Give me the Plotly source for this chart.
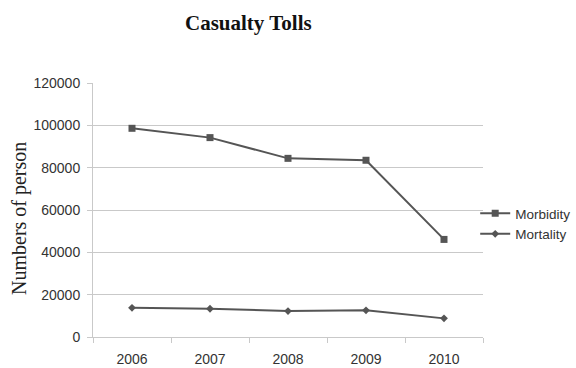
import plotly.graph_objects as go

years = ["2006", "2007", "2008", "2009", "2010"]
morbidity = [98600, 94200, 84400, 83500, 46100]
mortality = [13800, 13350, 12260, 12580, 8800]
y_ticks = [0, 20000, 40000, 60000, 80000, 100000, 120000]

line_color = "#555555"
grid_color = "#c9c9c9"
text_color = "#333333"

fig = go.Figure()
fig.add_trace(go.Scatter(
    x=years, y=morbidity, name="Morbidity", mode="lines+markers",
    line=dict(color=line_color, width=2),
    marker=dict(symbol="square", size=7, color=line_color),
))
fig.add_trace(go.Scatter(
    x=years, y=mortality, name="Mortality", mode="lines+markers",
    line=dict(color=line_color, width=2),
    marker=dict(symbol="diamond", size=6, color=line_color),
))

fig.update_layout(
    width=576, height=368,
    margin=dict(l=93, r=93, t=83, b=31, autoexpand=False),
    paper_bgcolor="white", plot_bgcolor="white",
    font=dict(family="Liberation Sans, Arial, sans-serif", size=14, color=text_color),
    showlegend=True,
    legend=dict(
        x=0.98, y=0.445, xanchor="left", yanchor="middle",
        itemwidth=30, tracegroupgap=0,
        font=dict(size=13.5, color=text_color),
        bgcolor="rgba(0,0,0,0)",
    ),
    annotations=[
        dict(text="<b>Casualty Tolls</b>", xref="paper", yref="paper",
             x=(248 - 93) / 390, y=1 + (83 - 23) / 254, xanchor="center", yanchor="middle",
             showarrow=False,
             font=dict(family="Liberation Serif, Times New Roman, serif", size=21, color="#111111")),
        dict(text="Numbers of person", xref="paper", yref="paper",
             x=-(93 - 20) / 390, y=(337 - 219) / 254, xanchor="center", yanchor="middle",
             textangle=-90, showarrow=False,
             font=dict(family="Liberation Serif, Times New Roman, serif", size=20, color="#222222")),
    ],
)

fig.update_xaxes(
    type="category", tickson="boundaries", ticks="outside", ticklen=5,
    tickcolor=grid_color, showline=True, linecolor=grid_color, linewidth=1,
    showgrid=False, tickfont=dict(size=14, color=text_color),
    range=[-0.5, 4.5], ticklabelstandoff=9,
)
fig.update_yaxes(
    range=[0, 120000], tickvals=y_ticks, ticktext=[str(v) for v in y_ticks],
    ticks="outside", ticklen=5, tickcolor=grid_color,
    showline=True, linecolor=grid_color, linewidth=1,
    showgrid=True, gridcolor=grid_color, gridwidth=1, zeroline=False,
    tickfont=dict(size=14, color=text_color), ticklabelstandoff=4,
)

fig.write_html("out.html")
